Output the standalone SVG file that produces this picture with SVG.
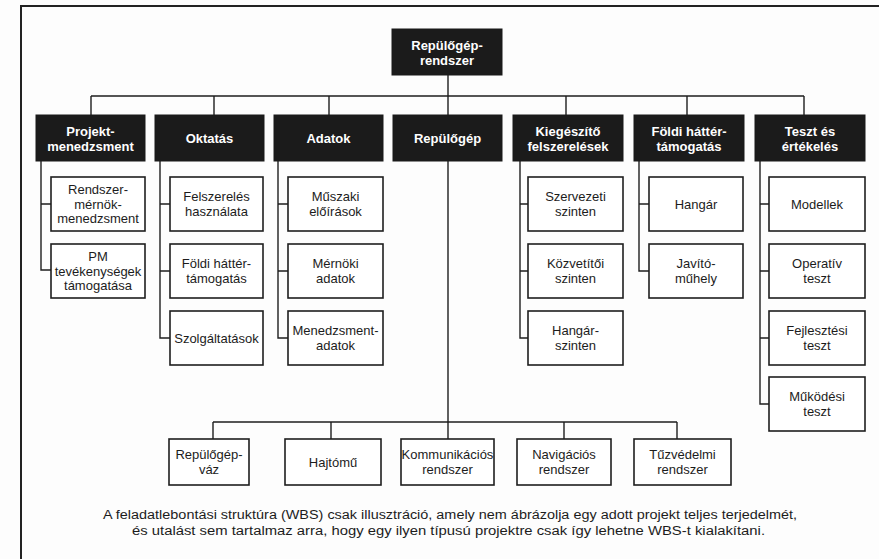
<svg xmlns="http://www.w3.org/2000/svg" width="879" height="559" viewBox="0 0 879 559">
  <style>
    text { font-family: "Liberation Sans", Arial, sans-serif; text-anchor: middle; fill: #1c1c1c; }
    .hdr { fill: #1b1b1b; stroke: #1b1b1b; stroke-width: 1; }
    .hdr-t { fill: #ffffff; font-weight: bold; font-size: 13px; }
    .box { fill: #ffffff; stroke: #1e1e1e; stroke-width: 1.6; }
    .box-t { font-size: 13px; }
    .wire { fill: none; stroke: #1e1e1e; stroke-width: 1.4; }
    .frame { fill: none; stroke: #222222; stroke-width: 2; }
    .cap { font-size: 12.5px; }
  </style>
  <rect width="879" height="559" fill="#fdfdfd"/>

  <!-- page frame -->
  <path class="frame" d="M21,559 V6 H879"/>

  <!-- connectors -->
  <g id="connectors">
    <!-- root to level 1 -->
    <path class="wire" d="M448,75 V96 M91,96 H804 M91,96 V115 M214,96 V115 M329,96 V115 M448,96 V115 M566,96 V115 M687,96 V115 M804,96 V115"/>
    <!-- Projekt-menedzsment -->
    <path class="wire" d="M41,161 V270 H51 M41,204 H51"/>
    <!-- Oktatás -->
    <path class="wire" d="M160,161 V338 H170 M160,204 H170 M160,271 H170"/>
    <!-- Adatok -->
    <path class="wire" d="M278,161 V338 H288 M278,204 H288 M278,271 H288"/>
    <!-- Kiegészítő felszerelések -->
    <path class="wire" d="M520,161 V338 H528 M520,204 H528 M520,271 H528"/>
    <!-- Földi háttér-támogatás -->
    <path class="wire" d="M639,161 V271 H649 M639,204 H649"/>
    <!-- Teszt és értékelés -->
    <path class="wire" d="M760,161 V404 H769 M760,204 H769 M760,271 H769 M760,338 H769"/>
    <!-- Repülőgép to its components -->
    <path class="wire" d="M448,161 V422 M213,422 H677 M213,422 V439 M331,422 V439 M448,422 V439 M564,422 V439 M677,422 V439"/>
  </g>

  <!-- root -->
  <g id="root">
    <rect class="hdr" x="392" y="29" width="110" height="46"/>
    <text class="hdr-t" x="447" y="49.5">Repülőgép-</text>
    <text class="hdr-t" x="447" y="65">rendszer</text>
  </g>

  <!-- level 1 -->
  <g id="projekt">
    <rect class="hdr" x="36" y="115" width="109" height="46"/>
    <text class="hdr-t" x="90.5" y="136">Projekt-</text>
    <text class="hdr-t" x="90.5" y="151">menedzsment</text>
  </g>
  <g id="oktatas">
    <rect class="hdr" x="155" y="115" width="109" height="46"/>
    <text class="hdr-t" x="209.5" y="143">Oktatás</text>
  </g>
  <g id="adatok">
    <rect class="hdr" x="274" y="115" width="109" height="46"/>
    <text class="hdr-t" x="328.5" y="143">Adatok</text>
  </g>
  <g id="repulogep">
    <rect class="hdr" x="393" y="115" width="109" height="46"/>
    <text class="hdr-t" x="447.5" y="143">Repülőgép</text>
  </g>
  <g id="kiegeszito">
    <rect class="hdr" x="513" y="115" width="110" height="46"/>
    <text class="hdr-t" x="568" y="136">Kiegészítő</text>
    <text class="hdr-t" x="568" y="151">felszerelések</text>
  </g>
  <g id="foldi">
    <rect class="hdr" x="634" y="115" width="110" height="46"/>
    <text class="hdr-t" x="689" y="136">Földi háttér-</text>
    <text class="hdr-t" x="689" y="151">támogatás</text>
  </g>
  <g id="teszt">
    <rect class="hdr" x="755" y="115" width="110" height="46"/>
    <text class="hdr-t" x="810" y="136">Teszt és</text>
    <text class="hdr-t" x="810" y="151">értékelés</text>
  </g>

  <!-- Projekt-menedzsment children -->
  <g id="rendszermernok">
    <rect class="box" x="51" y="177" width="94" height="54"/>
    <text class="box-t" x="98" y="194">Rendszer-</text>
    <text class="box-t" x="98" y="208.5">mérnök-</text>
    <text class="box-t" x="98" y="223">menedzsment</text>
  </g>
  <g id="pmtev">
    <rect class="box" x="51" y="244" width="94" height="54"/>
    <text class="box-t" x="98" y="261">PM</text>
    <text class="box-t" x="98" y="275.5">tevékenységek</text>
    <text class="box-t" x="98" y="290">támogatása</text>
  </g>

  <!-- Oktatás children -->
  <g id="felszhaszn">
    <rect class="box" x="170" y="177" width="93" height="54"/>
    <text class="box-t" x="216.5" y="201">Felszerelés</text>
    <text class="box-t" x="216.5" y="215.5">használata</text>
  </g>
  <g id="oktfoldi">
    <rect class="box" x="170" y="244" width="93" height="54"/>
    <text class="box-t" x="216.5" y="268">Földi háttér-</text>
    <text class="box-t" x="216.5" y="282.5">támogatás</text>
  </g>
  <g id="szolg">
    <rect class="box" x="170" y="311" width="93" height="54"/>
    <text class="box-t" x="216.5" y="342.5">Szolgáltatások</text>
  </g>

  <!-- Adatok children -->
  <g id="muszaki">
    <rect class="box" x="288" y="177" width="95" height="54"/>
    <text class="box-t" x="335.5" y="201">Műszaki</text>
    <text class="box-t" x="335.5" y="215.5">előírások</text>
  </g>
  <g id="mernoki">
    <rect class="box" x="288" y="244" width="95" height="54"/>
    <text class="box-t" x="335.5" y="268">Mérnöki</text>
    <text class="box-t" x="335.5" y="282.5">adatok</text>
  </g>
  <g id="menadat">
    <rect class="box" x="288" y="311" width="95" height="54"/>
    <text class="box-t" x="335.5" y="335">Menedzsment-</text>
    <text class="box-t" x="335.5" y="349.5">adatok</text>
  </g>

  <!-- Kiegészítő felszerelések children -->
  <g id="szervezeti">
    <rect class="box" x="528" y="177" width="95" height="54"/>
    <text class="box-t" x="575.5" y="201">Szervezeti</text>
    <text class="box-t" x="575.5" y="215.5">szinten</text>
  </g>
  <g id="kozvetitoi">
    <rect class="box" x="528" y="244" width="95" height="54"/>
    <text class="box-t" x="575.5" y="268">Közvetítői</text>
    <text class="box-t" x="575.5" y="282.5">szinten</text>
  </g>
  <g id="hangarszint">
    <rect class="box" x="528" y="311" width="95" height="54"/>
    <text class="box-t" x="575.5" y="335">Hangár-</text>
    <text class="box-t" x="575.5" y="349.5">szinten</text>
  </g>

  <!-- Földi háttér-támogatás children -->
  <g id="hangar">
    <rect class="box" x="649" y="177" width="94" height="54"/>
    <text class="box-t" x="696" y="208.5">Hangár</text>
  </g>
  <g id="javito">
    <rect class="box" x="649" y="244" width="94" height="54"/>
    <text class="box-t" x="696" y="268">Javító-</text>
    <text class="box-t" x="696" y="282.5">műhely</text>
  </g>

  <!-- Teszt és értékelés children -->
  <g id="modellek">
    <rect class="box" x="769" y="177" width="96" height="54"/>
    <text class="box-t" x="817" y="208.5">Modellek</text>
  </g>
  <g id="operativ">
    <rect class="box" x="769" y="244" width="96" height="54"/>
    <text class="box-t" x="817" y="268">Operatív</text>
    <text class="box-t" x="817" y="282.5">teszt</text>
  </g>
  <g id="fejlesztesi">
    <rect class="box" x="769" y="311" width="96" height="54"/>
    <text class="box-t" x="817" y="335">Fejlesztési</text>
    <text class="box-t" x="817" y="349.5">teszt</text>
  </g>
  <g id="mukodesi">
    <rect class="box" x="769" y="377" width="96" height="54"/>
    <text class="box-t" x="817" y="401">Működési</text>
    <text class="box-t" x="817" y="415.5">teszt</text>
  </g>

  <!-- Repülőgép components -->
  <g id="vaz">
    <rect class="box" x="169" y="439" width="80" height="46"/>
    <text class="box-t" x="209" y="459">Repülőgép-</text>
    <text class="box-t" x="209" y="474">váz</text>
  </g>
  <g id="hajtomu">
    <rect class="box" x="285" y="439" width="96" height="46"/>
    <text class="box-t" x="333" y="466.5">Hajtómű</text>
  </g>
  <g id="kommunikacios">
    <rect class="box" x="401" y="439" width="93" height="46"/>
    <text class="box-t" x="447.5" y="459">Kommunikációs</text>
    <text class="box-t" x="447.5" y="474">rendszer</text>
  </g>
  <g id="navigacios">
    <rect class="box" x="517" y="439" width="94" height="46"/>
    <text class="box-t" x="564" y="459">Navigációs</text>
    <text class="box-t" x="564" y="474">rendszer</text>
  </g>
  <g id="tuzvedelmi">
    <rect class="box" x="634" y="439" width="97" height="46"/>
    <text class="box-t" x="682.5" y="459">Tűzvédelmi</text>
    <text class="box-t" x="682.5" y="474">rendszer</text>
  </g>

  <!-- caption -->
  <text class="cap" x="450" y="519" textLength="694" lengthAdjust="spacingAndGlyphs">A feladatlebontási struktúra (WBS) csak illusztráció, amely nem ábrázolja egy adott projekt teljes terjedelmét,</text>
  <text class="cap" x="448.5" y="535" textLength="633" lengthAdjust="spacingAndGlyphs">és utalást sem tartalmaz arra, hogy egy ilyen típusú projektre csak így lehetne WBS-t kialakítani.</text>
</svg>
